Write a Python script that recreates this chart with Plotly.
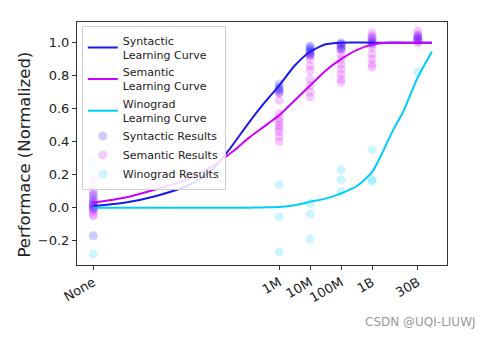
import plotly.graph_objects as go

# ---- data ----
tick_vals = [1, 1e6, 1e7, 1e8, 1e9, 3e10]
tick_text = ["None", "1M", "10M", "100M", "1B", "30B"]

# fitted learning curves (log10 of pretraining size -> normalized performance)
syn_curve_logx = [0, 1, 2, 3, 3.5, 4, 4.5, 5, 5.5, 6, 6.5, 7, 7.5, 8, 9, 10, 10.93]
syn_curve_y = [0.01, 0.03, 0.07, 0.13, 0.18, 0.26, 0.38, 0.51, 0.63, 0.74, 0.86, 0.945, 0.99, 1.0, 1.0, 1.0, 1.0]

sem_curve_logx = [0, 1, 2, 3, 4, 4.5, 5, 5.5, 6, 6.5, 7, 7.5, 8, 8.5, 9, 9.5, 10, 10.93]
sem_curve_y = [0.03, 0.06, 0.11, 0.17, 0.27, 0.34, 0.42, 0.49, 0.56, 0.65, 0.74, 0.83, 0.90, 0.955, 0.988, 1.0, 1.0, 1.0]

win_curve_logx = [0, 2, 4, 5, 5.5, 6, 6.5, 7, 7.5, 8, 8.5, 9, 9.35, 9.5, 9.68, 10, 10.477, 10.93]
win_curve_y = [0.0, 0.0, 0.0, 0.0, 0.002, 0.005, 0.015, 0.036, 0.055, 0.087, 0.13, 0.215, 0.34, 0.40, 0.47, 0.58, 0.79, 0.945]

# individual results per pretraining size
syn_res = {
    1: [0.08, 0.05, 0.03, 0.02, 0.01, 0.0, -0.01, -0.17],
    1e6: [0.75, 0.73, 0.72, 0.71, 0.70],
    1e7: [0.98, 0.97, 0.96, 0.95, 0.94, 0.93, 0.92],
    1e8: [1.0, 0.99, 0.98, 0.97, 0.96],
    1e9: [1.03, 1.01, 1.0, 0.99],
    3e10: [1.04, 1.03, 1.02, 1.01],
}
sem_res = {
    1: [0.17, 0.13, 0.10, 0.07, 0.04, 0.02, 0.0, -0.02, -0.04, -0.05],
    1e6: [0.69, 0.65, 0.57, 0.54, 0.52, 0.50, 0.48, 0.46, 0.43, 0.40],
    1e7: [0.93, 0.90, 0.86, 0.83, 0.78, 0.74, 0.70, 0.67],
    1e8: [0.99, 0.96, 0.93, 0.90, 0.87, 0.84, 0.81, 0.78, 0.76],
    1e9: [1.06, 1.04, 1.02, 1.0, 0.97, 0.93, 0.90, 0.87, 0.85],
    3e10: [1.07, 1.05, 1.03, 1.02, 1.0],
}
win_res = {
    1: [0.29, 0.24, -0.28],
    1e6: [0.14, -0.055, -0.27],
    1e7: [0.027, -0.038, -0.19],
    1e8: [0.23, 0.17, 0.097],
    1e9: [0.35, 0.17, 0.16],
    3e10: [0.82],
}

C_SYN = "#1a1aee"
C_SEM = "#cc00ff"
C_WIN = "#00ccff"
FONT = "DejaVu Sans"
TXT = "#222222"


def flatten(d):
    xs, ys = [], []
    for k, vals in d.items():
        for v in vals:
            xs.append(k)
            ys.append(v)
    return xs, ys


fig = go.Figure()

for name, d, col, rank in [("Syntactic Results", syn_res, "rgb(0,0,255)", 4),
                           ("Semantic Results", sem_res, C_SEM, 5),
                           ("Winograd Results", win_res, C_WIN, 6)]:
    xs, ys = flatten(d)
    fig.add_trace(go.Scatter(
        x=xs, y=ys, mode="markers", name=name, legendrank=rank,
        marker=dict(size=9, color=col, opacity=0.2, line=dict(width=0)),
    ))

for name, lx, ly, col, rank in [("Syntactic<br>Learning Curve", syn_curve_logx, syn_curve_y, C_SYN, 1),
                                ("Semantic<br>Learning Curve", sem_curve_logx, sem_curve_y, C_SEM, 2),
                                ("Winograd<br>Learning Curve", win_curve_logx, win_curve_y, C_WIN, 3)]:
    fig.add_trace(go.Scatter(
        x=[10 ** v for v in lx], y=ly, mode="lines", name=name, legendrank=rank,
        line=dict(color=col, width=2, shape="spline", smoothing=0.6),
    ))

fig.update_layout(
    width=489, height=340,
    margin=dict(l=77, r=42, t=22, b=75),
    paper_bgcolor="white", plot_bgcolor="white",
    font=dict(family=FONT, size=13, color=TXT),
    showlegend=True,
    legend=dict(
        x=0.013, y=0.985, xanchor="left", yanchor="top",
        bgcolor="rgba(255,255,255,0.85)", bordercolor="#d0d0d0", borderwidth=1,
        font=dict(family=FONT, size=11, color=TXT),
        tracegroupgap=0, itemwidth=30,
    ),
    annotations=[
        dict(text="CSDN @UQI-LIUWJ", xref="paper", yref="paper", x=1.084, y=-0.235,
             xanchor="right", yanchor="middle", showarrow=False,
             font=dict(family=FONT, size=12, color="#9a9a9a")),
        dict(text="Performace (Normalized)", xref="paper", yref="paper",
             x=(23.5 - 77) / 370, y=(265 - 155) / 243, xanchor="center", yanchor="middle",
             textangle=-90, showarrow=False,
             font=dict(family=FONT, size=16.5, color=TXT)),
    ],
)

fig.update_xaxes(
    type="log", range=[-0.526, 11.42],
    tickvals=tick_vals, ticktext=tick_text, tickangle=-30,
    ticks="outside", ticklen=4, tickwidth=1, tickcolor="#333333",
    showgrid=False, zeroline=False,
    showline=True, linecolor="#333333", linewidth=1, mirror=True,
    tickfont=dict(family=FONT, size=13, color=TXT),
)
fig.update_yaxes(
    range=[-0.347, 1.125],
    tickvals=[-0.2, 0.0, 0.2, 0.4, 0.6, 0.8, 1.0],
    ticktext=["−0.2", "0.0", "0.2", "0.4", "0.6", "0.8", "1.0"],
    ticks="outside", ticklen=4, tickwidth=1, tickcolor="#333333",
    showgrid=False, zeroline=False,
    showline=True, linecolor="#333333", linewidth=1, mirror=True,
    tickfont=dict(family=FONT, size=13, color=TXT),
)

fig.write_html("out.html")
